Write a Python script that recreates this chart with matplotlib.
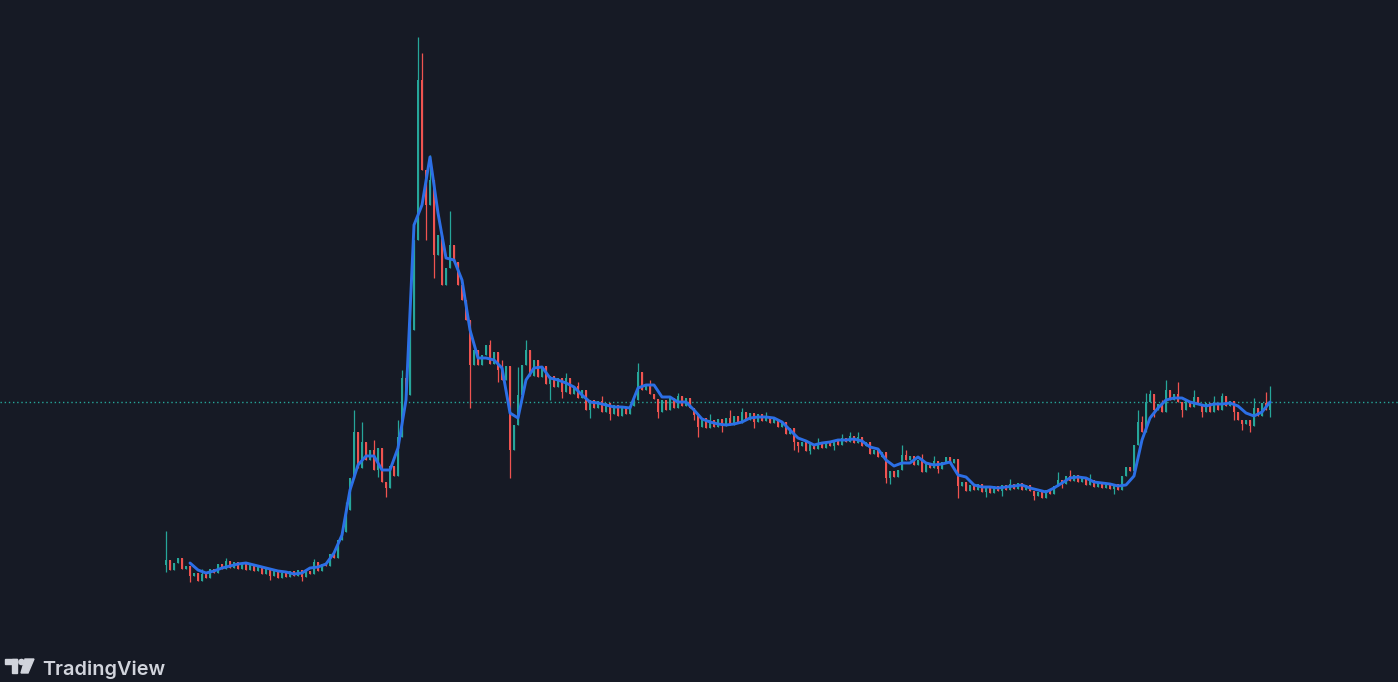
import numpy as np
import matplotlib
matplotlib.use("Agg")
from matplotlib import pyplot as plt
from matplotlib.patches import Polygon, Circle, Rectangle

# ---- data (price units, one candle per bar index) ----
first_open = 117
closes = [
    122, 112, 119, 124, 113, 116, 106, 109, 101, 108, 104, 113, 109, 118, 113, 121, 114, 120, 113, 119,
    112, 118, 111, 115, 108, 113, 106, 111, 104, 109, 105, 111, 106, 112, 105, 111, 108, 120, 111, 118,
    116, 128, 124, 142, 150, 172, 204, 250, 214, 240, 222, 232, 212, 234, 200, 194, 216, 206, 245, 304,
    287, 352, 442, 602, 512, 477, 502, 427, 447, 397, 414, 437, 420, 397, 382, 362, 317, 332, 317, 327,
    337, 318, 330, 312, 302, 316, 232, 257, 287, 317, 332, 306, 322, 305, 316, 298, 306, 295, 304, 290,
    304, 288, 296, 284, 292, 272, 282, 274, 281, 270, 279, 268, 277, 266, 275, 268, 276, 282, 310, 292,
    298, 288, 283, 270, 282, 272, 284, 274, 286, 276, 284, 274, 267, 255, 264, 254, 262, 255, 263, 256,
    264, 257, 266, 259, 270, 262, 269, 260, 268, 261, 265, 259, 263, 255, 260, 248, 254, 240, 236, 240,
    231, 238, 233, 239, 234, 240, 236, 242, 237, 244, 240, 246, 239, 245, 236, 240, 228, 232, 225, 230,
    204, 211, 205, 212, 227, 222, 226, 217, 222, 210, 219, 214, 221, 213, 220, 225, 219, 223, 196, 200,
    191, 197, 192, 198, 190, 195, 189, 196, 191, 197, 192, 198, 193, 199, 192, 197, 191, 186, 190, 184,
    192, 188, 196, 202, 198, 206, 201, 207, 200, 205, 197, 202, 195, 200, 194, 199, 193, 198, 192, 206,
    215, 211, 237, 260, 250, 280, 288, 272, 278, 270, 292, 282, 288, 280, 272, 281, 275, 285, 278, 270,
    279, 270, 278, 272, 286, 276, 281, 270, 262, 258, 262, 256, 274, 266, 279, 272, 280,
]
# wick extremes that stick out of the bodies
wick_highs = {0: 151, 9: 113, 15: 124, 37: 123, 45: 180, 47: 272, 49: 260, 52: 242, 58: 262, 59: 312,
              61: 382, 63: 645, 64: 629, 66: 527, 71: 471, 81: 342, 84: 322, 88: 315, 90: 342, 93: 318,
              100: 309, 103: 300, 109: 286, 118: 319, 121: 302, 128: 289, 136: 268, 141: 272, 144: 274,
              150: 270, 163: 244, 169: 248, 171: 250, 173: 250, 184: 237, 185: 232, 189: 228, 192: 226,
              211: 203, 223: 210, 226: 212, 231: 208, 243: 272, 244: 266, 245: 289, 246: 292, 249: 282,
              250: 302, 253: 300, 257: 292, 262: 286, 264: 289, 272: 284, 275: 290, 276: 296}
wick_lows = {0: 110, 6: 100, 26: 102, 34: 101, 53: 205, 55: 185, 65: 442, 67: 404, 70: 400, 76: 274,
             83: 300, 86: 204, 96: 282, 99: 284, 106: 264, 111: 262, 123: 264, 132: 262, 133: 245,
             139: 250, 147: 254, 157: 232, 158: 230, 161: 228, 167: 232, 180: 199, 181: 198, 193: 209,
             198: 184, 205: 185, 209: 186, 217: 182, 224: 194, 237: 188, 242: 232, 247: 265, 254: 265,
             259: 265, 267: 262, 269: 252, 271: 250, 276: 265}

# blue moving average, one value every second bar
ma_values = [
    np.nan, np.nan, np.nan, 119, 112, 109, 111, 114, 116, 118, 119, 117, 115, 113, 111, 110, 108, 109,
    114, 115, 118, 129, 147, 192, 217, 226, 226, 212, 212, 234, 282, 457, 477, 525, 469, 424, 422, 402,
    352, 324, 324, 322, 314, 269, 264, 302, 314, 315, 304, 302, 299, 295, 287, 280, 279, 277, 275, 275,
    274, 294, 297, 297, 285, 285, 280, 280, 272, 263, 260, 258, 257, 258, 260, 264, 265, 265, 264, 260,
    252, 244, 241, 237, 239, 240, 242, 242, 243, 241, 235, 233, 222, 216, 219, 219, 225, 219, 217, 218,
    220, 207, 205, 197, 195, 195, 194, 195, 196, 197, 194, 192, 190, 194, 199, 204, 205, 204, 200, 199,
    198, 196, 197, 206, 242, 264, 274, 282, 284, 284, 280, 278, 276, 278, 278, 279, 276, 269, 266, 270,
    280,
]

BG = "#161a25"
UP = "#26a69a"
DOWN = "#ef5350"
MA_COLOR = "#2c6fe6"

closes = np.array(closes, dtype=float)
opens = np.concatenate([[first_open], closes[:-1]])
n = len(closes)
idx = np.arange(n)
highs = np.maximum(opens, closes)
lows = np.minimum(opens, closes)
for k, v in wick_highs.items():
    highs[k] = max(highs[k], v)
for k, v in wick_lows.items():
    lows[k] = min(lows[k], v)

fig = plt.figure(figsize=(13.98, 6.82), dpi=100, facecolor=BG)
ax = fig.add_axes([0, 0, 1, 1])
ax.set_facecolor(BG)

up = closes >= opens
colors = np.where(up, UP, DOWN)
ax.vlines(idx, lows, highs, colors=colors, linewidth=0.9, zorder=2)
body = np.maximum(np.abs(closes - opens), 1.0)
ax.bar(idx, body, bottom=np.minimum(opens, closes), width=0.72, color=colors, linewidth=0, zorder=2)

ma_x = np.arange(0, n, 2)
ax.plot(ma_x, ma_values[:len(ma_x)], color=MA_COLOR, linewidth=2.1, solid_joinstyle="round",
        solid_capstyle="round", zorder=3)

# last price line
ax.axhline(closes[-1], color=UP, linewidth=1, linestyle=(0, (1, 2)), zorder=1)

ax.set_xlim(-41.5, 308)
ax.set_ylim(0, 682)
ax.axis("off")

# TradingView watermark
logo = fig.add_axes([0, 0, 1, 1], facecolor="none")
logo.set_xlim(0, 1398)
logo.set_ylim(682, 0)
logo.axis("off")
LOGO_C = "#d1d4dc"
logo.add_patch(Rectangle((5, 659), 12, 5, color=LOGO_C))
logo.add_patch(Rectangle((12, 659), 5, 14, color=LOGO_C))
logo.add_patch(Circle((21.5, 662), 2.6, color=LOGO_C))
logo.add_patch(Polygon([(25, 659), (34, 659), (28, 673), (21, 673)], closed=True, color=LOGO_C))
logo.text(42, 675, "TradingView", color=LOGO_C, fontsize=14.3, fontweight="semibold",
          family=["Inter", "DejaVu Sans"], va="baseline", ha="left")

fig.savefig("out.png", dpi=100, facecolor=BG)
